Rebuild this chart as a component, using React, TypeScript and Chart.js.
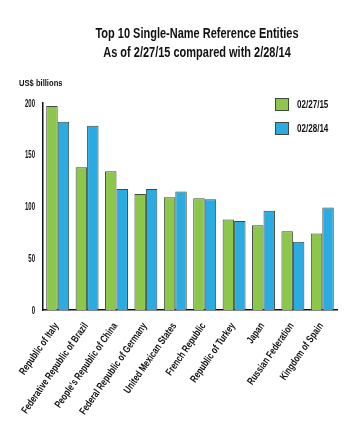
import React, { useEffect, useRef } from "react";
import { Chart, registerables } from "chart.js";

Chart.register(...registerables);

const categories = [
  "Republic of Italy",
  "Federative Republic of Brazil",
  "People's Republic of China",
  "Federal Republic of Germany",
  "United Mexican States",
  "French Republic",
  "Republic of Turkey",
  "Japan",
  "Russian Federation",
  "Kingdom of Spain",
];
const series2015 = [197, 138, 134, 112, 109, 108, 87.5, 82, 76, 74];
const series2014 = [182, 178, 117, 117, 114.5, 107, 86, 96, 66, 99];
const seriesLabels = ["02/27/15", "02/28/14"];
const titleLines = ["Top 10 Single-Name Reference Entities", "As of 2/27/15 compared with 2/28/14"];
const unitLabel = "US$ billions";

const FONT = "'Liberation Sans', Arial, sans-serif";
const GREEN = "#8cc64b";
const BLUE = "#2aabe2";
const BORDER = "#3d4a3c";
const INK = "#111";

function drawText(
  ctx: CanvasRenderingContext2D,
  text: string,
  x: number,
  y: number,
  size: number,
  sx: number,
  align: CanvasTextAlign,
  rot = 0
) {
  ctx.save();
  ctx.translate(x, y);
  if (rot) ctx.rotate(rot);
  ctx.scale(sx, 1);
  ctx.font = `bold ${size}px ${FONT}`;
  ctx.textAlign = align;
  ctx.textBaseline = "middle";
  ctx.fillStyle = INK;
  ctx.fillText(text, 0, 0);
  ctx.restore();
}

const decorPlugin = {
  id: "decor",
  afterDraw(chart: any) {
    const ctx = chart.ctx as CanvasRenderingContext2D;
    const area = chart.chartArea;
    // title
    drawText(ctx, titleLines[0], 189, 26, 14, 0.785, "center");
    drawText(ctx, titleLines[1], 189, 45, 14, 0.785, "center");
    // unit label
    drawText(ctx, unitLabel, 11, 75, 9.5, 0.8, "left");
    // y tick labels
    const ys = chart.scales.y;
    ys.ticks.forEach((t: any) => {
      drawText(ctx, String(t.value), area.left - 8, ys.getPixelForValue(t.value) + 0.5, 11.5, 0.52, "right");
    });
    // x tick labels
    const xs = chart.scales.x;
    const labels = chart.data.labels as string[];
    labels.forEach((lab, i) => {
      const x = xs.getPixelForTick(i);
      drawText(ctx, lab, x - 1, area.bottom + 14, 10.5, 0.75, "right", (-55 * Math.PI) / 180);
    });
    // legend
    const ds = chart.data.datasets;
    ds.forEach((d: any, i: number) => {
      const y = 90 + i * 24;
      ctx.save();
      ctx.fillStyle = d.backgroundColor;
      ctx.fillRect(267, y, 14, 13);
      ctx.strokeStyle = BORDER;
      ctx.lineWidth = 1;
      ctx.strokeRect(267.5, y + 0.5, 13, 12);
      ctx.restore();
      drawText(ctx, d.label, 289, y + 7, 11.5, 0.7, "left");
    });
  },
};

export default function App() {
  const ref = useRef<HTMLCanvasElement | null>(null);
  useEffect(() => {
    if (!ref.current) return;
    const chart = new Chart(ref.current, {
      type: "bar",
      data: {
        labels: categories,
        datasets: [
          {
            label: seriesLabels[0],
            data: series2015,
            backgroundColor: GREEN,
            borderColor: BORDER,
            borderWidth: 1,
          },
          {
            label: seriesLabels[1],
            data: series2014,
            backgroundColor: BLUE,
            borderColor: BORDER,
            borderWidth: 1,
          },
        ],
      },
      options: {
        animation: false,
        responsive: false,
        maintainAspectRatio: false,
        layout: { padding: { top: 95, left: 0, right: 15, bottom: 0 } },
        datasets: { bar: { categoryPercentage: 0.78, barPercentage: 1.0 } },
        plugins: {
          legend: { display: false },
          title: { display: false },
          tooltip: { enabled: false },
        },
        scales: {
          x: {
            grid: { display: false },
            border: { display: true, color: INK, width: 1.5 },
            ticks: { display: false, autoSkip: false },
            afterFit(scale: any) {
              scale.height = 129;
            },
          },
          y: {
            min: 0,
            max: 200,
            grid: { display: false },
            border: { display: true, color: INK, width: 1.5 },
            ticks: { display: false, stepSize: 50 },
            afterFit(scale: any) {
              scale.width = 35;
            },
          },
        },
      },
      plugins: [decorPlugin],
    });
    return () => chart.destroy();
  }, []);
  return (
    <div style={{ width: 344, height: 431 }}>
      <canvas ref={ref} width={344} height={431} style={{ display: "block" }} />
    </div>
  );
}
